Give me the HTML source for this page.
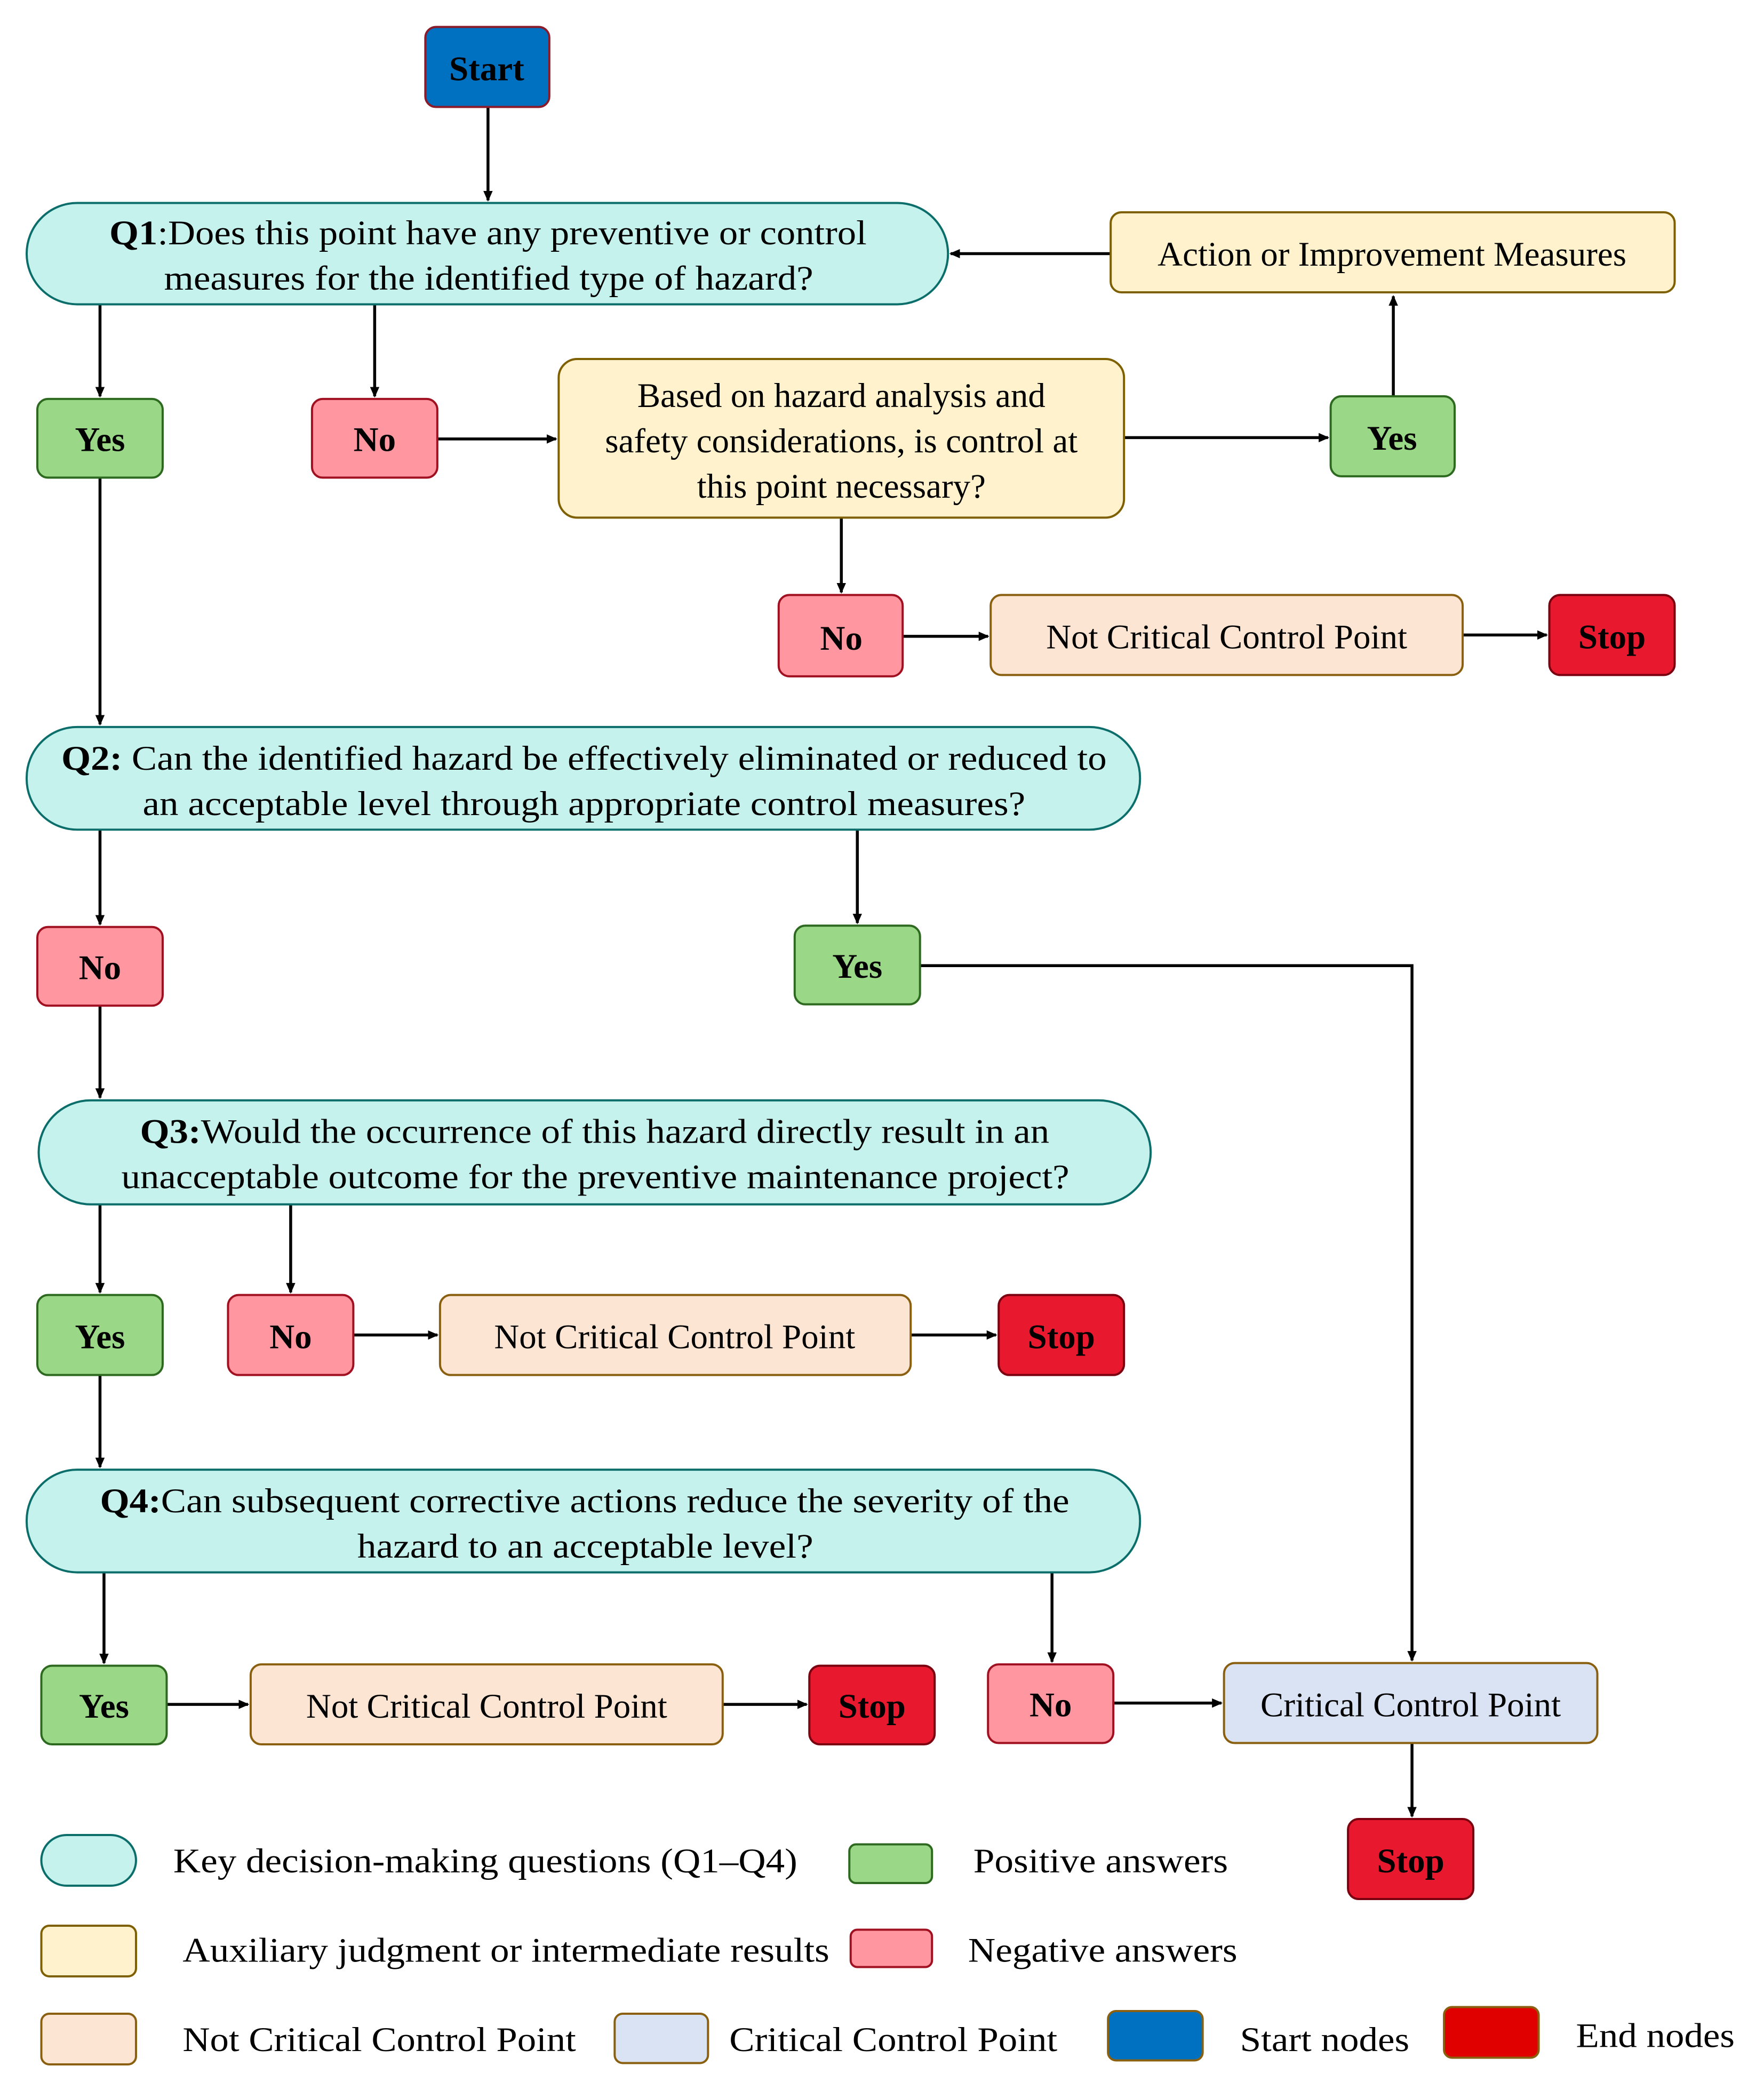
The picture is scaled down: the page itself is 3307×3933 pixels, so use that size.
<!DOCTYPE html>
<html><head><meta charset="utf-8"><style>
html,body{margin:0;padding:0;background:#fff;}
svg{display:block;}
text{font-family:"Liberation Serif",serif;fill:#000;}
.b{font-weight:bold;}
</style></head><body>
<svg width="3307" height="3933" viewBox="0 0 1323 1573" xmlns="http://www.w3.org/2000/svg">
<defs>
<marker id="a" markerWidth="8" markerHeight="8" refX="7" refY="4" orient="auto" markerUnits="userSpaceOnUse"><path d="M0,0.5 L8,4 L0,7.5 z" fill="#000"/></marker>
</defs>
<g stroke="#000" stroke-width="2.2" fill="none" marker-end="url(#a)">
<path d="M366,80 V150"/>
<path d="M833,190 H713"/>
<path d="M75,228 V297"/>
<path d="M281,228 V297"/>
<path d="M328,329 H417"/>
<path d="M843,328 H996"/>
<path d="M1045,297 V222"/>
<path d="M631,388 V444"/>
<path d="M677,477 H741"/>
<path d="M1097,476 H1160"/>
<path d="M75,358 V543"/>
<path d="M75,622 V693"/>
<path d="M643,622 V692"/>
<path d="M690,724 H1059 V1245"/>
<path d="M75,754 V823"/>
<path d="M75,903 V969"/>
<path d="M218,903 V969"/>
<path d="M265,1001 H328"/>
<path d="M683,1001 H747"/>
<path d="M75,1031 V1100"/>
<path d="M78,1179 V1247"/>
<path d="M789,1179 V1246"/>
<path d="M125,1278 H186"/>
<path d="M542,1278 H605"/>
<path d="M835,1277 H916"/>
<path d="M1059,1307 V1362"/>
</g>
<g stroke-width="1.6">
<rect x="319" y="20" width="93" height="60" rx="8" fill="#0070c0" stroke="#8b1a2a"/>
<rect x="20" y="152" width="691" height="76" rx="38" fill="#c6f2ee" stroke="#0b6e6a"/>
<rect x="833" y="159" width="423" height="60" rx="8" fill="#fff2cc" stroke="#7f6000"/>
<rect x="28" y="299" width="94" height="59" rx="8" fill="#9ad888" stroke="#2d6a1f"/>
<rect x="234" y="299" width="94" height="59" rx="8" fill="#ff96a0" stroke="#a01020"/>
<rect x="419" y="269" width="424" height="119" rx="14" fill="#fff2cc" stroke="#7f6000"/>
<rect x="998" y="297" width="93" height="60" rx="8" fill="#9ad888" stroke="#2d6a1f"/>
<rect x="584" y="446" width="93" height="61" rx="8" fill="#ff96a0" stroke="#a01020"/>
<rect x="743" y="446" width="354" height="60" rx="8" fill="#fde5d3" stroke="#8a6010"/>
<rect x="1162" y="446" width="94" height="60" rx="8" fill="#e8192f" stroke="#7a0010"/>
<rect x="20" y="545" width="835" height="77" rx="38" fill="#c6f2ee" stroke="#0b6e6a"/>
<rect x="28" y="695" width="94" height="59" rx="8" fill="#ff96a0" stroke="#a01020"/>
<rect x="596" y="694" width="94" height="59" rx="8" fill="#9ad888" stroke="#2d6a1f"/>
<rect x="29" y="825" width="834" height="78" rx="39" fill="#c6f2ee" stroke="#0b6e6a"/>
<rect x="28" y="971" width="94" height="60" rx="8" fill="#9ad888" stroke="#2d6a1f"/>
<rect x="171" y="971" width="94" height="60" rx="8" fill="#ff96a0" stroke="#a01020"/>
<rect x="330" y="971" width="353" height="60" rx="8" fill="#fde5d3" stroke="#8a6010"/>
<rect x="749" y="971" width="94" height="60" rx="8" fill="#e8192f" stroke="#7a0010"/>
<rect x="20" y="1102" width="835" height="77" rx="38" fill="#c6f2ee" stroke="#0b6e6a"/>
<rect x="31" y="1249" width="94" height="59" rx="8" fill="#9ad888" stroke="#2d6a1f"/>
<rect x="188" y="1248" width="354" height="60" rx="8" fill="#fde5d3" stroke="#8a6010"/>
<rect x="607" y="1249" width="94" height="59" rx="8" fill="#e8192f" stroke="#7a0010"/>
<rect x="741" y="1248" width="94" height="59" rx="8" fill="#ff96a0" stroke="#a01020"/>
<rect x="918" y="1247" width="280" height="60" rx="8" fill="#dae3f3" stroke="#8a6010"/>
<rect x="1011" y="1364" width="94" height="60" rx="8" fill="#e8192f" stroke="#7a0010"/>
<!-- legend -->
<rect x="31" y="1376" width="71" height="38" rx="19" fill="#c6f2ee" stroke="#0b6e6a"/>
<rect x="637" y="1383" width="62" height="29" rx="5" fill="#9ad888" stroke="#2d6a1f"/>
<rect x="31" y="1444" width="71" height="38" rx="6" fill="#fff2cc" stroke="#7f6000"/>
<rect x="638" y="1447" width="61" height="28" rx="5" fill="#ff96a0" stroke="#a01020"/>
<rect x="31" y="1510" width="71" height="38" rx="6" fill="#fde5d3" stroke="#8a6010"/>
<rect x="461" y="1510" width="70" height="37" rx="6" fill="#dae3f3" stroke="#8a6010"/>
<rect x="831" y="1508" width="71" height="37" rx="6" fill="#0070c0" stroke="#8a6010"/>
<rect x="1083" y="1505" width="71" height="38" rx="6" fill="#e00000" stroke="#8a6010"/>
</g>
<g font-size="26" text-anchor="middle">
<text x="365" y="60" class="b">Start</text>
<text x="75" y="338" class="b">Yes</text>
<text x="281" y="338" class="b">No</text>
<text x="1044" y="337" class="b">Yes</text>
<text x="631" y="487" class="b">No</text>
<text x="1209" y="486" class="b">Stop</text>
<text x="75" y="734" class="b">No</text>
<text x="643" y="733" class="b">Yes</text>
<text x="75" y="1011" class="b">Yes</text>
<text x="218" y="1011" class="b">No</text>
<text x="796" y="1011" class="b">Stop</text>
<text x="78" y="1288" class="b">Yes</text>
<text x="654" y="1288" class="b">Stop</text>
<text x="788" y="1287" class="b">No</text>
<text x="1058" y="1404" class="b">Stop</text>
<text x="1044" y="199">Action or Improvement Measures</text>
<text x="920" y="486">Not Critical Control Point</text>
<text x="506" y="1011">Not Critical Control Point</text>
<text x="365" y="1288">Not Critical Control Point</text>
<text x="1058" y="1287">Critical Control Point</text>
<text x="631" y="305">Based on hazard analysis and</text>
<text x="631" y="339">safety considerations, is control at</text>
<text x="631" y="373">this point necessary?</text>
</g>
<g font-size="26" text-anchor="start">
<text x="82" y="183" textLength="568" lengthAdjust="spacingAndGlyphs"><tspan class="b">Q1</tspan>:Does this point have any preventive or control</text>
<text x="123" y="217" textLength="487" lengthAdjust="spacingAndGlyphs">measures for the identified type of hazard?</text>
<text x="46" y="577" textLength="784" lengthAdjust="spacingAndGlyphs"><tspan class="b">Q2:</tspan> Can the identified hazard be effectively eliminated or reduced to</text>
<text x="107" y="611" textLength="662" lengthAdjust="spacingAndGlyphs">an acceptable level through appropriate control measures?</text>
<text x="105" y="857" textLength="682" lengthAdjust="spacingAndGlyphs"><tspan class="b">Q3:</tspan>Would the occurrence of this hazard directly result in an</text>
<text x="91" y="891" textLength="711" lengthAdjust="spacingAndGlyphs">unacceptable outcome for the preventive maintenance project?</text>
<text x="75" y="1134" textLength="727" lengthAdjust="spacingAndGlyphs"><tspan class="b">Q4:</tspan>Can subsequent corrective actions reduce the severity of the</text>
<text x="268" y="1168" textLength="342" lengthAdjust="spacingAndGlyphs">hazard to an acceptable level?</text>
<text x="130" y="1404" textLength="468" lengthAdjust="spacingAndGlyphs">Key decision-making questions (Q1–Q4)</text>
<text x="730" y="1404" textLength="191" lengthAdjust="spacingAndGlyphs">Positive answers</text>
<text x="137" y="1471" textLength="485" lengthAdjust="spacingAndGlyphs">Auxiliary judgment or intermediate results</text>
<text x="726" y="1471" textLength="202" lengthAdjust="spacingAndGlyphs">Negative answers</text>
<text x="137" y="1538" textLength="295" lengthAdjust="spacingAndGlyphs">Not Critical Control Point</text>
<text x="547" y="1538" textLength="246" lengthAdjust="spacingAndGlyphs">Critical Control Point</text>
<text x="930" y="1538" textLength="127" lengthAdjust="spacingAndGlyphs">Start nodes</text>
<text x="1182" y="1535" textLength="119" lengthAdjust="spacingAndGlyphs">End nodes</text>
</g>
</svg>
</body></html>
